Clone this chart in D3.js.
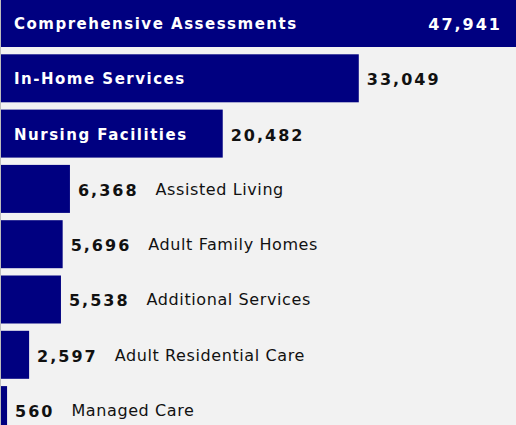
<!DOCTYPE html>
<html>
<head>
<meta charset="utf-8">
<script src="https://cdn.jsdelivr.net/npm/d3@7"></script>
<style>
  html, body { margin: 0; padding: 0; background: #f2f2f2; }
  svg { display: block; font-family: Verdana, "DejaVu Sans", sans-serif; }
</style>
</head>
<body>
<div id="chart"></div>
<script>
// Service counts, largest first
const categories = [
  'Comprehensive Assessments',
  'In-Home Services',
  'Nursing Facilities',
  'Assisted Living',
  'Adult Family Homes',
  'Additional Services',
  'Adult Residential Care',
  'Managed Care'
];
const counts = [47941, 33049, 20482, 6368, 5696, 5538, 2597, 560];

const NAVY = '#000080';
const W = 516, H = 425;
const fmt = d3.format(',');

const rows = categories.map((c, i) => ({ name: c, value: counts[i] }));

const svg = d3.select('#chart').append('svg')
  .attr('width', W)
  .attr('height', H);

svg.append('rect').attr('width', W).attr('height', H).attr('fill', '#f2f2f2');

// bars run off the right edge a little, like the original
const x = d3.scaleLinear().domain([0, 47941]).range([1, 520]);
const y = d3.scaleBand().domain(categories).range([-1, 434.1]).paddingInner(0.132).paddingOuter(0);

// thin axis line on the left
svg.append('line')
  .attr('x1', 0.5).attr('x2', 0.5)
  .attr('y1', 0).attr('y2', H)
  .attr('stroke', '#bdbdbd');

const g = svg.selectAll('.row')
  .data(rows)
  .join('g')
  .attr('class', 'row')
  .attr('transform', d => `translate(0,${y(d.name)})`);

g.append('rect')
  .attr('x', x(0))
  .attr('width', d => x(d.value) - x(0))
  .attr('height', y.bandwidth())
  .attr('fill', NAVY);

const mid = y.bandwidth() / 2;

g.each(function (d) {
  const row = d3.select(this);
  const end = x(d.value);
  const inside = end > 200;

  if (inside) {
    row.append('text')
      .attr('x', 14)
      .attr('y', mid + 6)
      .attr('fill', '#fff')
      .attr('font-size', 15)
      .attr('font-weight', 'bold')
      .attr('letter-spacing', 1.5)
      .text(d.name);
  }

  const val = row.append('text')
    .attr('y', mid + 7)
    .attr('font-size', 16)
    .attr('font-weight', 'bold')
    .attr('letter-spacing', 2)
    .text(fmt(d.value));

  const vw = val.node().getComputedTextLength();
  if (end + 8 + vw > W - 10) {
    // no room outside: put the number at the right end, in white
    val.attr('x', W - 14 - vw).attr('fill', '#fff');
  } else {
    val.attr('x', end + 8).attr('fill', '#111');
    if (!inside) {
      row.append('text')
        .attr('x', end + 8 + vw + 17)
        .attr('y', mid + 6)
        .attr('font-size', 16)
        .attr('letter-spacing', 0.6)
        .attr('fill', '#111')
        .text(d.name);
    }
  }
});
</script>
</body>
</html>
